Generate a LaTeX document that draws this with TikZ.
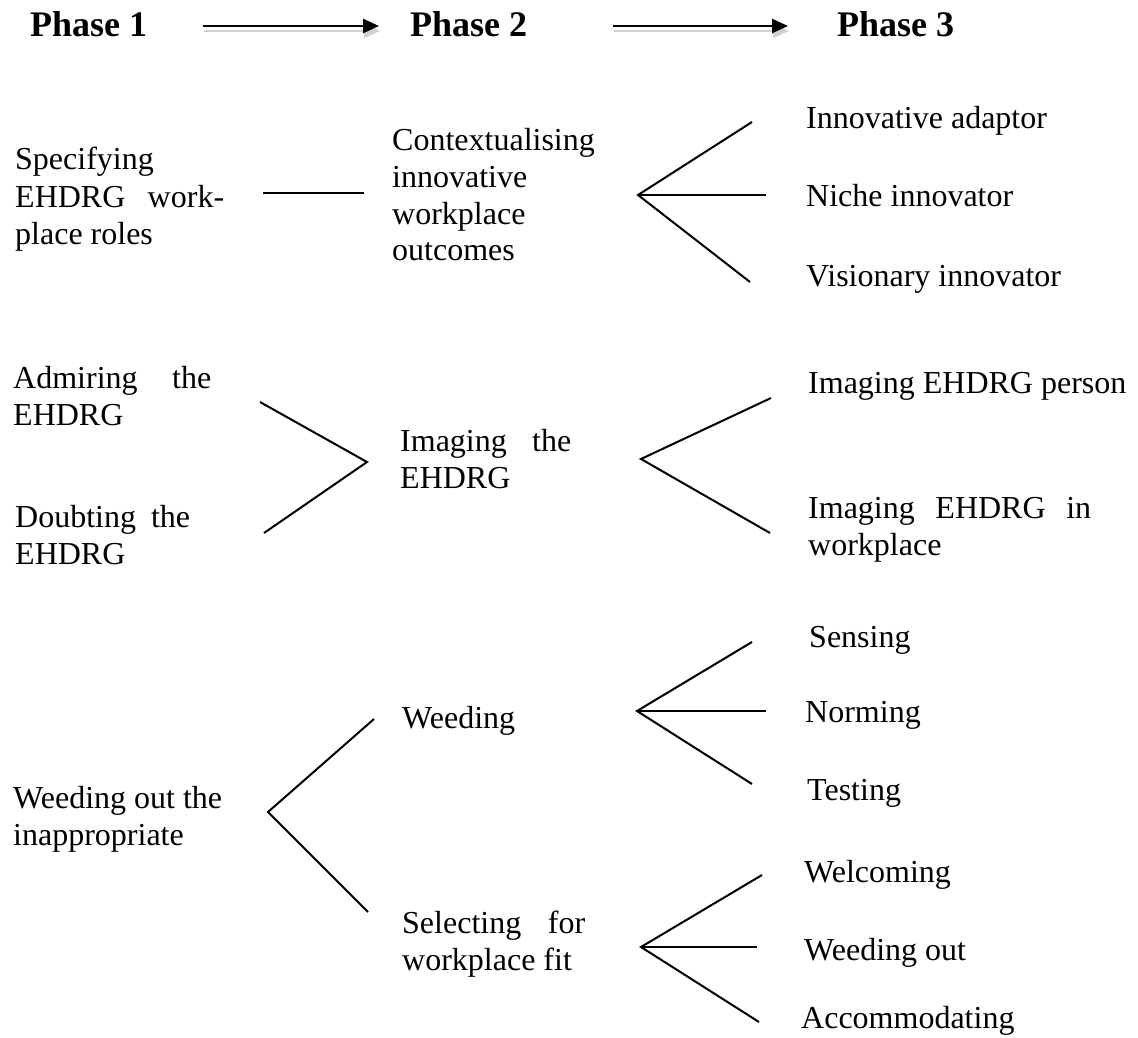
\documentclass[tikz,border=0pt]{standalone}
\usepackage{fontspec}
\setmainfont{Liberation Serif}
\usetikzlibrary{arrows.meta}
\begin{document}
\begin{tikzpicture}[x=1pt,y=-1pt,
  txt/.style={inner sep=0pt, anchor=base west, font=\fontsize{32}{37}\selectfont},
  phase/.style={inner sep=0pt, anchor=base west, font=\fontsize{36}{40}\selectfont\bfseries},
  branch/.style={line width=2pt},
  flow/.style={line width=2.6pt, -{Triangle[length=16pt,width=14pt]}},
  flowshadow/.style={line width=2.2pt, black!18, -{Triangle[length=16pt,width=14pt]}}]
\useasboundingbox (0,0) rectangle (1138,1038);

% ---- phase headings and arrows ----
\node[phase] (p1) at (30,37) {Phase 1};
\node[phase] (p2) at (410,37) {Phase 2};
\node[phase] (p3) at (837,37) {Phase 3};
\coordinate (a1s) at (203,26); \coordinate (a1e) at (379,26);
\coordinate (a2s) at (613,26); \coordinate (a2e) at (788,26);
\draw[flowshadow] ([shift={(1,5)}]a1s) -- ([shift={(1,5)}]a1e);
\draw[flowshadow] ([shift={(1,5)}]a2s) -- ([shift={(1,5)}]a2e);
\draw[flow] (a1s) -- (a1e);
\draw[flow] (a2s) -- (a2e);

% ---- row 1: workplace roles ----
\node[txt] (spec) at (15,170) {\parbox[t]{209pt}{Specifying\\\makebox[209pt][s]{EHDRG work-}\\place roles}};
\node[txt] (ctx) at (392,150) {\parbox[t]{240pt}{Contextualising\\innovative\\workplace\\outcomes}};
\coordinate (l1a) at (263,193); \coordinate (l1b) at (364,193);
\draw[branch] (l1a) -- (l1b);

\node[txt] (ia) at (806,129) {Innovative adaptor};
\node[txt] (ni) at (806,206) {Niche innovator};
\node[txt] (vi) at (806,286) {Visionary innovator};
\coordinate (f1) at (638,195);
\coordinate (f1a) at (752,122); \coordinate (f1b) at (766,195); \coordinate (f1c) at (750,282);
\draw[branch] (f1a) -- (f1) -- (f1c);
\draw[branch] (f1) -- (f1b);

% ---- row 2: imaging ----
\node[txt] (adm) at (13,388) {\parbox[t]{198pt}{\makebox[198pt][s]{Admiring the}\\EHDRG}};
\node[txt] (dou) at (15,527) {\parbox[t]{175pt}{\makebox[175pt][s]{Doubting the}\\EHDRG}};
\coordinate (f2) at (367,462);
\coordinate (f2a) at (260,402); \coordinate (f2c) at (264,533);
\draw[branch] (f2a) -- (f2) -- (f2c);

\node[txt] (img) at (400,451) {\parbox[t]{171pt}{\makebox[171pt][s]{Imaging the}\\EHDRG}};
\node[txt] (iep) at (808,393) {Imaging EHDRG person};
\node[txt] (iew) at (808,518) {\parbox[t]{283pt}{\makebox[283pt][s]{Imaging EHDRG in}\\workplace}};
\coordinate (f3) at (641,459);
\coordinate (f3a) at (771,398); \coordinate (f3c) at (770,533);
\draw[branch] (f3a) -- (f3) -- (f3c);

% ---- row 3: weeding out ----
\node[txt] (woi) at (13,808) {\parbox[t]{250pt}{Weeding out the\\inappropriate}};
\node[txt] (wee) at (402,728) {Weeding};
\node[txt] (sel) at (402,933) {\parbox[t]{183pt}{\makebox[183pt][s]{Selecting for}\\workplace fit}};
\coordinate (f4) at (268,812);
\coordinate (f4a) at (374,719); \coordinate (f4c) at (368,912);
\draw[branch] (f4a) -- (f4) -- (f4c);

\node[txt] (sen) at (809,647) {Sensing};
\node[txt] (nor) at (805,722) {Norming};
\node[txt] (tes) at (807,800) {Testing};
\coordinate (f5) at (637,711);
\coordinate (f5a) at (752,642); \coordinate (f5b) at (766,711); \coordinate (f5c) at (752,784);
\draw[branch] (f5a) -- (f5) -- (f5c);
\draw[branch] (f5) -- (f5b);

\node[txt] (wel) at (804,882) {Welcoming};
\node[txt] (wou) at (804,960) {Weeding out};
\node[txt] (acc) at (801,1028) {Accommodating};
\coordinate (f6) at (641,947);
\coordinate (f6a) at (762,875); \coordinate (f6b) at (757,947); \coordinate (f6c) at (759,1022);
\draw[branch] (f6a) -- (f6) -- (f6c);
\draw[branch] (f6) -- (f6b);
\end{tikzpicture}
\end{document}
